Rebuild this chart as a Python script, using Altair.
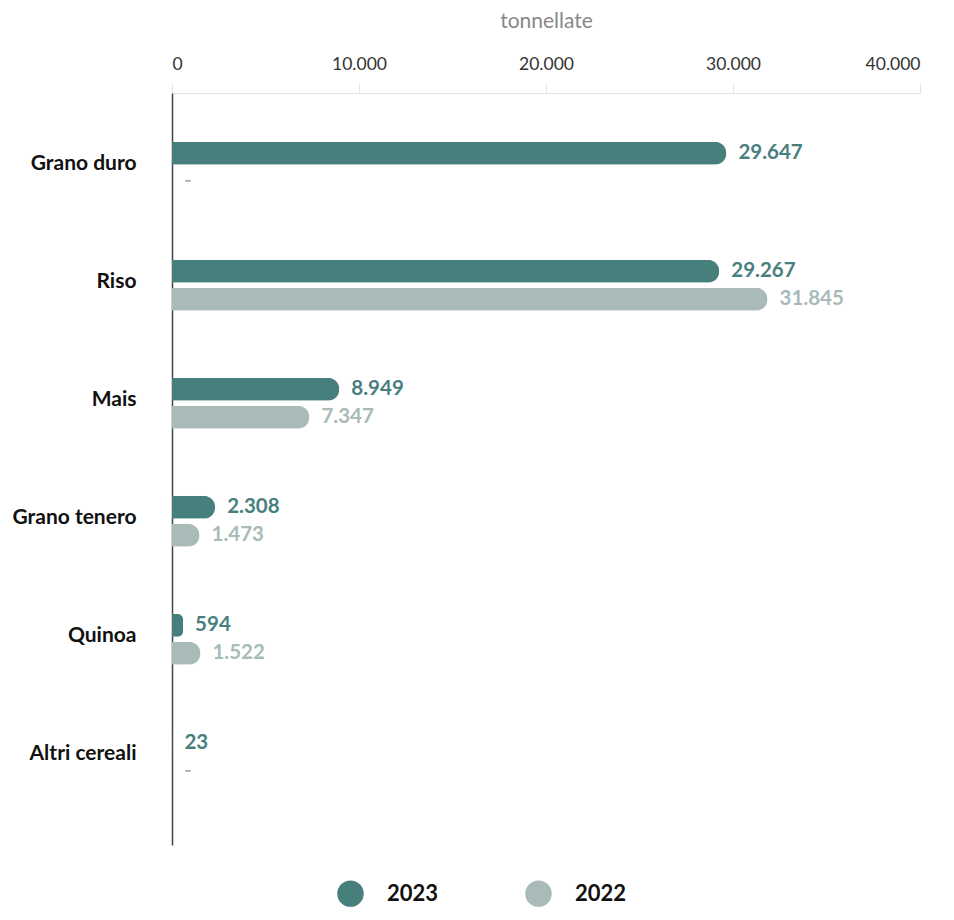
import altair as alt
import pandas as pd

categories = ["Grano duro", "Riso", "Mais", "Grano tenero", "Quinoa", "Altri cereali"]
years = ["2023", "2022"]
values_2023 = [29647, 29267, 8949, 2308, 594, 23]
values_2022 = [None, 31845, 7347, 1473, 1522, None]
x_ticks = [0, 10000, 20000, 30000, 40000]
colors = ["#477f7d", "#a8bbb9"]


def fmt(v):
    if v is None:
        return "-"
    return f"{v:,}".replace(",", ".")


rows = []
for c, a, b in zip(categories, values_2023, values_2022):
    rows.append({"category": c, "year": "2023", "value": a, "xpos": a or 0, "label": fmt(a)})
    rows.append({"category": c, "year": "2022", "value": b, "xpos": b or 0, "label": fmt(b)})
df = pd.DataFrame(rows)

FONT = "Lato"

y_enc = alt.Y(
    "category:N",
    sort=categories,
    scale=alt.Scale(paddingInner=0.568, paddingOuter=0.47, align=0.44),
    axis=alt.Axis(
        title=None,
        ticks=False,
        domain=True,
        domainColor="#444444",
        domainWidth=1.5,
        labelFont=FONT,
        labelFontSize=21,
        labelFontWeight="bold",
        labelColor="#111111",
        labelPadding=36,
        labelOffset=-3,
    ),
)
yoff_enc = alt.YOffset(
    "year:N", sort=years, scale=alt.Scale(paddingInner=0.1786, paddingOuter=0)
)
x_enc = alt.X(
    "xpos:Q",
    scale=alt.Scale(domain=[0, 40000], nice=False, zero=True),
    axis=alt.Axis(
        orient="top",
        title="tonnellate",
        titleFont=FONT,
        titleFontSize=21,
        titleFontWeight="normal",
        titleColor="#888888",
        titlePadding=24,
        values=x_ticks,
        labelExpr="replace(format(datum.value, ','), ',', '.')",
        labelFont=FONT,
        labelFontSize=17.5,
        labelColor="#333333",
        labelPadding=10,
        tickColor="#e6e2dc",
        tickSize=10,
        domainColor="#e6e2dc",
        grid=False,
    ),
)
color_scale = alt.Scale(domain=years, range=colors)

bars = (
    alt.Chart(df)
    .transform_filter("datum.value != null")
    .mark_bar(cornerRadiusEnd=11.5)
    .encode(
        y=y_enc,
        yOffset=yoff_enc,
        x=x_enc,
        color=alt.Color(
            "year:N",
            sort=years,
            scale=color_scale,
            legend=alt.Legend(
                title=None,
                orient="none",
                direction="horizontal",
                legendX=165,
                legendY=787,
                symbolType="circle",
                symbolSize=700,
                symbolStrokeWidth=0,
                labelFont=FONT,
                labelFontSize=22,
                labelFontWeight="bold",
                labelColor="#111111",
                labelOffset=23,
                columnPadding=86,
                padding=0,
            ),
        ),
    )
)

texts = (
    alt.Chart(df)
    .mark_text(align="left", baseline="middle", dx=12, font=FONT, fontSize=20.5, fontWeight="bold")
    .encode(
        y=alt.Y("category:N", sort=categories),
        yOffset=alt.YOffset("year:N", sort=years),
        x=alt.X("xpos:Q"),
        text="label:N",
        color=alt.Color("year:N", sort=years, scale=color_scale, legend=None),
    )
)

chart = (
    alt.layer(bars, texts)
    .properties(
        width=748,
        height=752,
        autosize=alt.AutoSizeParams(type="none"),
        padding={"left": 164, "top": 85, "right": 26, "bottom": 66},
    )
    .configure(font=FONT)
    .configure_view(stroke=None)
)

chart.save("out.html", embed_options={"renderer": "svg", "actions": False})
